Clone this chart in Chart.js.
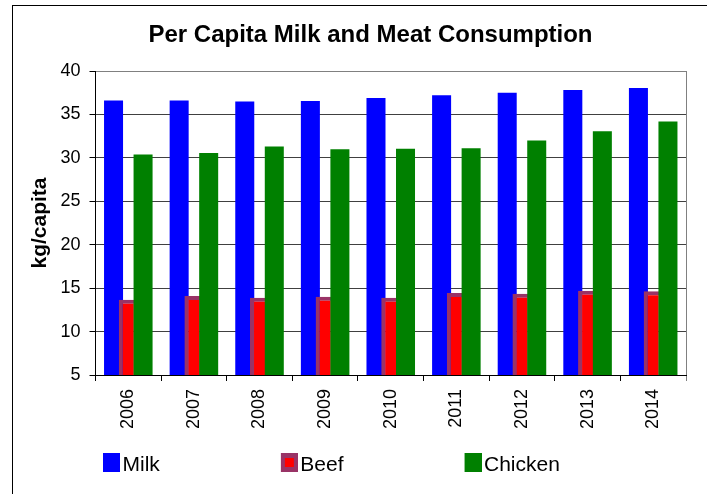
<!DOCTYPE html>
<html>
<head>
<meta charset="utf-8">
<title>Per Capita Milk and Meat Consumption</title>
<script src="https://cdn.jsdelivr.net/npm/chart.js@4.4.1/dist/chart.umd.min.js"></script>
<style>
  html, body { margin: 0; padding: 0; background: #fff; }
  #wrap { position: relative; width: 707px; height: 494px; overflow: hidden; background: #fff; }
  #frame { position: absolute; left: 12px; top: 5px; width: 720px; height: 520px; border: 1px solid #000; box-sizing: border-box; }
  #chart { position: absolute; left: -18px; top: 0; }
</style>
</head>
<body>
<div id="wrap">
  <div id="frame"></div>
  <canvas id="chart" width="777" height="494"></canvas>
</div>
<script>
// ============================================================================
// Per capita milk and meat consumption, kg/capita, 2006-2014
// ============================================================================

const years = ['2006', '2007', '2008', '2009', '2010', '2011', '2012', '2013', '2014'];
const milk = [36.6, 36.6, 36.5, 36.55, 36.9, 37.2, 37.5, 37.8, 38.05];
const beef = [13.65, 14.1, 13.9, 14.0, 13.9, 14.45, 14.35, 14.7, 14.65];
const chicken = [30.4, 30.55, 31.3, 31.0, 31.05, 31.1, 32.0, 33.05, 34.2];
const yTicks = { min: 5, max: 40, step: 5 };

const FONT = "'Liberation Sans', Arial, Helvetica, sans-serif";
Chart.defaults.font.family = FONT;
Chart.defaults.color = '#000';

// legend swatches: box sits at the right end of the image so the label
// text follows it closely, the rest of the image is empty spacing
const SWATCH_SPAN = 105;
function swatch(fill, edge) {
  const c = document.createElement('canvas');
  c.width = SWATCH_SPAN + 16;
  c.height = 25;
  const g = c.getContext('2d');
  const bx = c.width - 17;
  g.fillStyle = edge || fill;
  g.fillRect(bx, 0, 17, 19);
  if (edge) {
    g.fillStyle = fill;
    g.fillRect(bx + 4, 5, 9, 9);
  }
  return c;
}
const swatches = [swatch('#0000ff'), swatch('#ff0000', '#993366'), swatch('#008000')];

// draw order: milk at the back, beef over it, chicken in front.
// that order also flips the two grouped slots, so the group is laid out
// right-to-left (negative percentages) to keep milk on the left.
new Chart(document.getElementById('chart'), {
  type: 'bar',
  data: {
    labels: years,
    datasets: [
      { label: 'Milk', data: milk, backgroundColor: '#0000ff', borderWidth: 0, order: 2,
        categoryPercentage: -0.9, barPercentage: -0.644 },
      { label: 'Beef', data: beef, backgroundColor: '#ff0000', borderColor: '#993366', borderWidth: 4, order: 1,
        grouped: false, categoryPercentage: 1, barPercentage: 0.29 },
      { label: 'Chicken', data: chicken, backgroundColor: '#008000', borderWidth: 0, order: 0,
        categoryPercentage: -0.9, barPercentage: -0.644 }
    ]
  },
  options: {
    responsive: false,
    animation: false,
    layout: { padding: { left: 0, right: 0, top: 0, bottom: 8 } },
    plugins: {
      title: {
        display: true,
        text: 'Per Capita Milk and Meat Consumption',
        font: { size: 24, weight: 'bold' },
        color: '#000',
        padding: { top: 21.3, bottom: 20.9 }
      },
      legend: {
        position: 'bottom',
        align: 'start',
        labels: {
          usePointStyle: true,
          pointStyleWidth: SWATCH_SPAN,
          padding: 25,
          color: '#000',
          font: { size: 21 },
          generateLabels(chart) {
            const items = Chart.defaults.plugins.legend.labels.generateLabels(chart);
            items.sort((a, b) => a.datasetIndex - b.datasetIndex);
            items.forEach(it => { it.pointStyle = swatches[it.datasetIndex]; });
            return items;
          }
        }
      },
      tooltip: { enabled: false }
    },
    scales: {
      x: {
        type: 'category',
        offset: true,
        grid: {
          offset: true,
          drawOnChartArea: true,
          drawTicks: true,
          tickLength: 6,
          lineWidth: 1,
          // only the closing line on the right is shown inside the plot
          color: c => (c.index === undefined ? '#808080' : 'rgba(0,0,0,0)'),
          tickColor: c => (c.index === undefined ? '#808080' : '#000')
        },
        border: { display: true, color: '#000', width: 1 },
        ticks: { autoSkip: false, minRotation: 90, maxRotation: 90, padding: 8, font: { size: 18 }, color: '#000' },
        afterFit(scale) { scale.height = 55; }
      },
      y: {
        type: 'linear',
        position: 'left',
        min: yTicks.min,
        max: yTicks.max,
        ticks: { stepSize: yTicks.step, padding: 9, font: { size: 18 }, color: '#000' },
        grid: {
          tickLength: 6,
          lineWidth: 1,
          color: c => (c.tick && c.tick.value === yTicks.max ? '#808080' : '#404040'),
          tickColor: '#000'
        },
        border: { display: true, color: '#000', width: 1 },
        title: {
          display: true,
          text: 'kg/capita',
          font: { size: 21, weight: 'bold' },
          color: '#000',
          padding: { top: 45.6, bottom: 0 }
        },
        afterFit(scale) { scale.width = 113.5; }
      },
      // empty right-hand axis, keeps the plot clear of the page edge
      y2: {
        type: 'linear',
        position: 'right',
        display: true,
        grid: { display: false },
        ticks: { display: false },
        border: { display: false },
        afterFit(scale) { scale.width = 73; }
      }
    }
  }
});
</script>
</body>
</html>
